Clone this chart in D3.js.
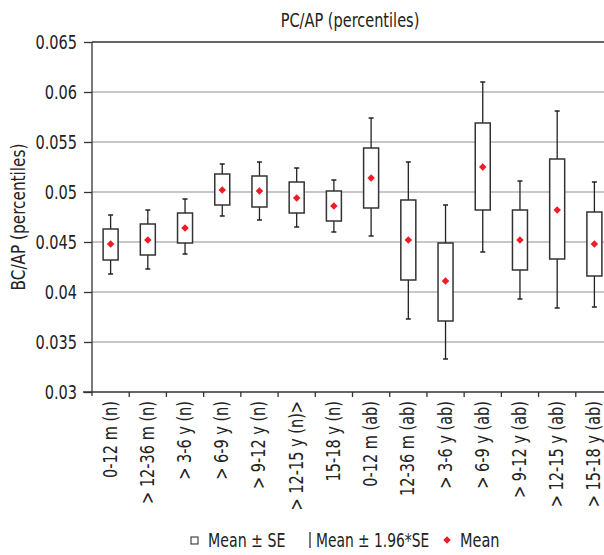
<!DOCTYPE html>
<html>
<head>
<meta charset="utf-8">
<script src="https://cdn.jsdelivr.net/npm/d3@7"></script>
<style>
  body { margin: 0; background: #fff; }
  text { font-family: "DejaVu Sans Condensed", "DejaVu Sans", sans-serif; fill: #222; font-size: 19px; }
</style>
</head>
<body>
<div id="chart"></div>
<script>
// categories and values
const categories = ["0-12 m (n)", "> 12-36 m (n)", "> 3-6 y (n)", "> 6-9 y (n)", "> 9-12 y (n)",
  "> 12-15 y (n)>", "15-18 y (n)", "0-12 m (ab)", "12-36 m (ab)", "> 3-6 y (ab)",
  "> 6-9 y (ab)", "> 9-12 y (ab)", "> 12-15 y (ab)", "> 15-18 y (ab)"]
const means    = [0.0448, 0.0452, 0.0464, 0.0502, 0.0501, 0.0494, 0.0486, 0.0514, 0.0452, 0.0411, 0.0525, 0.0452, 0.0482, 0.0448]
const seHigh   = [0.0463, 0.0468, 0.0479, 0.0518, 0.0516, 0.0510, 0.0501, 0.0544, 0.0492, 0.0449, 0.0569, 0.0482, 0.0533, 0.0480]
const seLow    = [0.0432, 0.0437, 0.0449, 0.0487, 0.0485, 0.0479, 0.0471, 0.0484, 0.0412, 0.0371, 0.0482, 0.0422, 0.0433, 0.0416]
const ciHigh   = [0.0477, 0.0482, 0.0493, 0.0528, 0.0530, 0.0524, 0.0512, 0.0574, 0.0530, 0.0487, 0.0610, 0.0511, 0.0581, 0.0510]
const ciLow    = [0.0418, 0.0423, 0.0438, 0.0476, 0.0472, 0.0465, 0.0460, 0.0456, 0.0373, 0.0333, 0.0440, 0.0393, 0.0384, 0.0385]
const yTicks   = [0.03, 0.035, 0.04, 0.045, 0.05, 0.055, 0.06, 0.065]

const width = 604, height = 555
const margin = {left: 92, right: -9, top: 42, bottom: 163}
const squeeze = 0.85  // the original font is a condensed one

const svg = d3.select("#chart").append("svg")
    .attr("width", width).attr("height", height)

const x = d3.scaleBand().domain(categories).range([margin.left, width - margin.right])
const y = d3.scaleLinear().domain([0.03, 0.065]).range([height - margin.bottom, margin.top])

const data = categories.map((c, i) => ({c, m: means[i], sh: seHigh[i], sl: seLow[i], ch: ciHigh[i], cl: ciLow[i]}))

// grid
svg.append("g").selectAll("line")
  .data(yTicks.filter(t => t > 0.03 && t < 0.065))
  .join("line")
    .attr("x1", margin.left).attr("x2", width)
    .attr("y1", d => y(d)).attr("y2", d => y(d))
    .attr("stroke", "#b4b4b4").attr("stroke-width", 1.3)

// top frame line
svg.append("line")
    .attr("x1", margin.left).attr("x2", width)
    .attr("y1", y(0.065)).attr("y2", y(0.065))
    .attr("stroke", "#333").attr("stroke-width", 1.3)

// y axis
const yAxis = svg.append("g")
    .attr("transform", `translate(${margin.left},0)`)
    .call(d3.axisLeft(y).tickValues(yTicks).tickFormat(d => d3.format("")(+d.toFixed(3))).tickSize(8))
yAxis.select(".domain").attr("stroke", "#333").attr("stroke-width", 1.3).attr("d", `M0,${y(0.065)}V${y(0.03) + 4}`)
yAxis.selectAll(".tick line").attr("stroke", "#333").attr("stroke-width", 1.3)
yAxis.selectAll(".tick text")
    .attr("x", 0).attr("dy", "0.36em")
    .attr("transform", `translate(-15,0) scale(${squeeze},1)`)
    .style("font-size", "19px").attr("fill", "#222")

// x axis
const xAxis = svg.append("g")
    .attr("transform", `translate(0,${y(0.03)})`)
xAxis.append("line")
    .attr("x1", margin.left - 9).attr("x2", width)
    .attr("stroke", "#333").attr("stroke-width", 1.3)
xAxis.selectAll(".tk")
  .data(categories.slice(1))
  .join("line")
    .attr("x1", d => x(d)).attr("x2", d => x(d))
    .attr("y1", 0).attr("y2", 5)
    .attr("stroke", "#333").attr("stroke-width", 1.3)
xAxis.selectAll(".lbl")
  .data(categories)
  .join("text")
    .attr("transform", d => `translate(${x(d) + x.bandwidth() / 2 + 6},9) rotate(-90) scale(${squeeze},1)`)
    .attr("text-anchor", "end")
    .text(d => d)

// whiskers
const g = svg.append("g").selectAll("g").data(data).join("g")
    .attr("transform", d => `translate(${x(d.c) + x.bandwidth() / 2},0)`)
g.append("line")
    .attr("y1", d => y(d.ch)).attr("y2", d => y(d.cl))
    .attr("stroke", "#222").attr("stroke-width", 1.3)
g.append("line").attr("x1", -2.5).attr("x2", 2.5)
    .attr("y1", d => y(d.ch)).attr("y2", d => y(d.ch))
    .attr("stroke", "#222").attr("stroke-width", 1.5)
g.append("line").attr("x1", -2.5).attr("x2", 2.5)
    .attr("y1", d => y(d.cl)).attr("y2", d => y(d.cl))
    .attr("stroke", "#222").attr("stroke-width", 1.5)
g.append("rect")
    .attr("x", -7.5).attr("width", 15)
    .attr("y", d => y(d.sh)).attr("height", d => y(d.sl) - y(d.sh))
    .attr("fill", "#fff").attr("stroke", "#333").attr("stroke-width", 1.5)
g.append("path")
    .attr("d", d3.symbol(d3.symbolDiamond2, 36))
    .attr("transform", d => `translate(0,${y(d.m)})`)
    .attr("fill", "#ee1c25")

// titles
svg.append("text")
    .attr("transform", `translate(350,27) scale(${squeeze},1)`)
    .attr("text-anchor", "middle")
    .text("PC/AP (percentiles)")

svg.append("text")
    .attr("transform", `translate(25,${(y(0.03) + y(0.065)) / 2}) rotate(-90) scale(${squeeze},1)`)
    .attr("text-anchor", "middle")
    .style("font-size", "20px")
    .text("BC/AP (percentiles)")

// legend
const leg = svg.append("g").attr("transform", "translate(0,547)")
leg.append("rect").attr("x", 191).attr("y", -10).attr("width", 7).attr("height", 7)
    .attr("fill", "#fff").attr("stroke", "#333").attr("stroke-width", 1.1)
leg.append("text").attr("transform", `translate(208,0) scale(0.83,1)`).text("Mean \u00b1 SE")
leg.append("line").attr("x1", 310).attr("x2", 310).attr("y1", -15).attr("y2", 1)
    .attr("stroke", "#333").attr("stroke-width", 1.3)
leg.append("text").attr("transform", `translate(316,0) scale(0.81,1)`).text("Mean \u00b1 1.96*SE")
leg.append("path").attr("d", d3.symbol(d3.symbolDiamond2, 36))
    .attr("transform", "translate(447,-7)").attr("fill", "#ee1c25")
leg.append("text").attr("transform", `translate(460,0) scale(${squeeze},1)`).text("Mean")
</script>
</body>
</html>
